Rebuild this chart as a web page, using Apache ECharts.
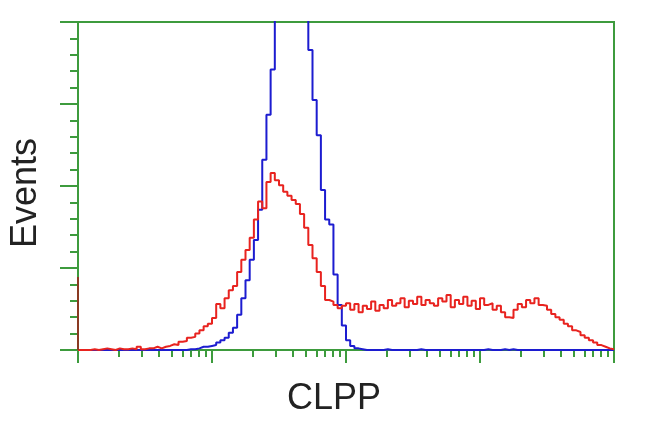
<!DOCTYPE html>
<html>
<head>
<meta charset="utf-8">
<script src="https://cdn.jsdelivr.net/npm/echarts@6/dist/echarts.min.js"></script>
<style>html,body{margin:0;padding:0;background:#fff}#c{width:650px;height:432px}</style>
</head>
<body>
<div id="c"></div>
<script>
// Histogram: 128 log-spaced channels over 4 decades (1 .. 10^4)
var nBins = 128;
var xMin = 1, xMax = 10000;
var xAxisName = 'CLPP';
var yAxisName = 'Events';

// Red histogram (sample), counts per channel
var redCounts = [
  0,0,0,1,0,1,2,1,0,2, 1,1,2,1,4,1,2,2,4,2,
  4,5,7,6,10,11,15,16,20,24, 29,32,39,56,51,63,73,78,95,110,
  122,137,159,181,173,205,216,207,201,193, 188,183,178,166,149,128,112,95,78,61,
  59,55,51,54,57,49,56,46,54,50, 59,48,55,51,61,54,57,63,52,60,
  56,65,55,61,57,54,63,59,67,52, 61,56,65,54,60,50,63,55,57,49,
  54,46,40,39,49,56,52,61,57,63, 55,54,49,44,40,37,32,29,24,22,
  18,15,12,9,6,4,2,1
];

// Blue histogram (control), counts per channel (peak runs off the top)
var blueCounts = [
  0,0,0,0,0,0,0,0,0,0, 0,0,0,0,0,0,0,0,0,0,
  0,0,0,0,0,0,1,1,2,4, 4,5,6,9,12,15,21,27,43,63,
  85,110,134,171,232,287,342,512,586,634, 659,647,610,549,464,366,305,262,195,159,
  153,92,55,30,12,5,2,1,0,0, 0,0,0,1,0,0,0,0,0,0,
  0,1,0,0,0,0,0,0,0,0, 0,0,0,0,0,0,0,1,0,0,
  0,1,0,1,0,0,0,0,0,0, 0,0,0,0,0,0,0,0,0,0,
  0,0,0,0,0,0,0,0
];

// First-channel pile-up spike
var spikeCount = 89;

var yMax = 400, yInterval = 100;

function channelEdge(i){ return Math.pow(10, Math.log10(xMax/xMin) * i / nBins) * xMin; }
function toSteps(counts){
  var out = [];
  for (var i = 0; i < counts.length; i++) out.push([channelEdge(i), counts[i]]);
  out.push([channelEdge(counts.length), counts[counts.length - 1]]);
  return out;
}

var green = '#3d9b3d';
var chart = echarts.init(document.getElementById('c'), null, {renderer: 'canvas'});
chart.setOption({
  animation: false,
  backgroundColor: '#ffffff',
  grid: {
    left: 76, right: 36, top: 22, bottom: 82,
    show: true, borderColor: green, borderWidth: 2, backgroundColor: 'transparent'
  },
  xAxis: {
    type: 'log', logBase: 10, min: xMin, max: xMax,
    name: xAxisName, nameLocation: 'middle', nameGap: 31,
    nameTextStyle: {fontFamily: 'Liberation Sans', fontSize: 36, color: '#222', padding: [0, 24, 0, 0]},
    axisLine: {show: true, lineStyle: {color: green, width: 2}},
    axisTick: {show: true, length: 13, lineStyle: {color: green, width: 2}},
    minorTick: {show: true, splitNumber: 9, length: 7, lineStyle: {color: green, width: 2}},
    axisLabel: {show: false},
    splitLine: {show: false}, minorSplitLine: {show: false}
  },
  yAxis: {
    type: 'value', min: 0, max: yMax, interval: yInterval,
    name: yAxisName, nameLocation: 'middle', nameGap: 34, nameRotate: 90,
    nameTextStyle: {fontFamily: 'Liberation Sans', fontSize: 36, color: '#222', padding: [0, 14, 0, 0]},
    axisLine: {show: true, lineStyle: {color: green, width: 2}},
    axisTick: {show: true, length: 18, lineStyle: {color: green, width: 2}},
    minorTick: {show: true, splitNumber: 5, length: 8, lineStyle: {color: green, width: 2}},
    axisLabel: {show: false},
    splitLine: {show: false}, minorSplitLine: {show: false}
  },
  series: [
    {
      type: 'line', step: 'end', data: toSteps(blueCounts), showSymbol: false, clip: true,
      lineStyle: {color: '#1c1cd0', width: 2}, z: 3
    },
    {
      type: 'line', step: 'end', data: toSteps(redCounts), showSymbol: false, clip: true,
      lineStyle: {color: '#e8231f', width: 2}, z: 4
    },
    {
      type: 'line', data: [[xMin, 0], [xMin, spikeCount]], showSymbol: false, clip: false,
      lineStyle: {color: '#8a3a22', width: 2}, z: 5
    }
  ]
});
</script>
</body>
</html>
